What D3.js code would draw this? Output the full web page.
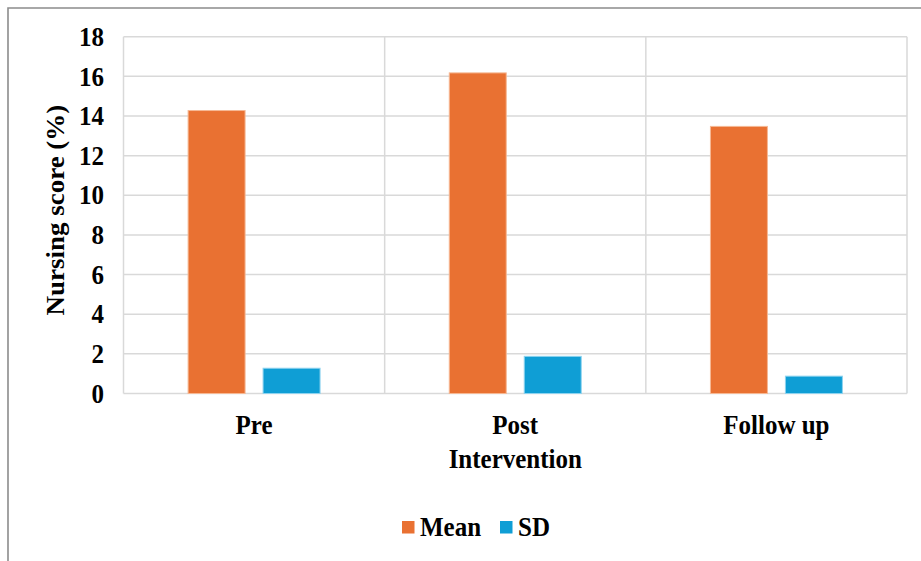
<!DOCTYPE html>
<html>
<head>
<meta charset="utf-8">
<script src="https://cdn.jsdelivr.net/npm/d3@7"></script>
<style>
  html, body { margin: 0; padding: 0; background: #fff; }
</style>
</head>
<body>
<svg id="chart" width="921" height="561"></svg>
<script>
const categories = ["Pre", "Post", "Follow up"];
const seriesNames = ["Mean", "SD"];
const meanValues = [14.3, 16.2, 13.5];
const sdValues = [1.3, 1.9, 0.9];
const yTicks = [0, 2, 4, 6, 8, 10, 12, 14, 16, 18];
const xTitle = "Intervention";
const yTitle = "Nursing score (%)";
const colors = ["#E97132", "#0F9ED5"];
const strokes = ["#F6B894", "#8ED3EF"];

(function () {
const svg = d3.select("#chart");
const W = 921, H = 561;
const fs = 25, sy = 1.08;
const FONT = "Liberation Serif, Tinos, Times New Roman, serif";

// outer frame
svg.append("path")
  .attr("d", `M8,${H + 2} L8,8 L${W + 2},8`)
  .attr("fill", "none").attr("stroke", "#8c8c8c").attr("stroke-width", 1.6);

const pLeft = 123.5, pRight = 907, pTop = 36.7, pBottom = 393.5;
const x0 = d3.scaleBand().domain(categories).range([pLeft, pRight]).padding(0);
const x1 = d3.scaleBand().domain(seriesNames).range([0, x0.bandwidth()])
  .paddingInner(0.2267).paddingOuter(0.855);
const y = d3.scaleLinear().domain([0, 18]).range([pBottom, pTop]);

// horizontal gridlines
svg.append("g").selectAll("line").data(yTicks).join("line")
  .attr("x1", pLeft).attr("x2", pRight)
  .attr("y1", d => y(d)).attr("y2", d => y(d))
  .attr("stroke", "#d9d9d9").attr("stroke-width", 1.5);

// vertical category dividers
const dividers = categories.map(c => x0(c)).concat([pRight]);
svg.append("g").selectAll("line").data(dividers).join("line")
  .attr("x1", d => d).attr("x2", d => d)
  .attr("y1", pTop).attr("y2", pBottom)
  .attr("stroke", "#d9d9d9").attr("stroke-width", 1.5);

// bars
const data = categories.map((c, i) => ({ cat: c, vals: [meanValues[i], sdValues[i]] }));
const groups = svg.append("g").selectAll("g").data(data).join("g")
  .attr("transform", d => `translate(${x0(d.cat)},0)`);
groups.selectAll("rect").data(d => d.vals.map((v, j) => ({ s: seriesNames[j], v, j })))
  .join("rect")
  .attr("x", d => x1(d.s) + 0.5)
  .attr("width", x1.bandwidth() - 1)
  .attr("y", d => y(d.v) + 0.5)
  .attr("height", d => y(0) - y(d.v) - 0.5)
  .attr("fill", d => colors[d.j])
  .attr("stroke", d => strokes[d.j]).attr("stroke-width", 1);

const T = svg.append("g")
  .attr("font-family", FONT).attr("font-weight", "bold").attr("fill", "#000");

// y tick labels
T.append("g").selectAll("text").data(yTicks).join("text")
  .attr("transform", d => `translate(104,${y(d) + 0.34 * fs * sy}) scale(1,${sy})`)
  .attr("text-anchor", "end").attr("font-size", fs)
  .text(d => d);

// x category labels
T.append("g").selectAll("text").data(categories).join("text")
  .attr("transform", d => `translate(${x0(d) + x0.bandwidth() / 2},434) scale(1,${sy})`)
  .attr("text-anchor", "middle").attr("font-size", fs)
  .text(d => d);

// x title
T.append("text")
  .attr("transform", `translate(${(pLeft + pRight) / 2},468) scale(1,${sy})`)
  .attr("text-anchor", "middle").attr("font-size", fs)
  .text(xTitle);

// y title
T.append("text")
  .attr("transform", `translate(64,${(pTop + pBottom) / 2 - 5}) scale(1,${sy}) rotate(-90)`)
  .attr("text-anchor", "middle").attr("font-size", fs)
  .text(yTitle);

// legend
const legendItems = [
  { name: seriesNames[0], color: colors[0], sx: 402, tx: 420 },
  { name: seriesNames[1], color: colors[1], sx: 500, tx: 518 }
];
svg.append("g").selectAll("rect").data(legendItems).join("rect")
  .attr("x", d => d.sx).attr("y", 521).attr("width", 12.5).attr("height", 12.5)
  .attr("fill", d => d.color);
T.append("g").selectAll("text").data(legendItems).join("text")
  .attr("transform", d => `translate(${d.tx},535.5) scale(1,${sy})`)
  .attr("font-size", fs)
  .text(d => d.name);
})();
</script>
</body>
</html>
